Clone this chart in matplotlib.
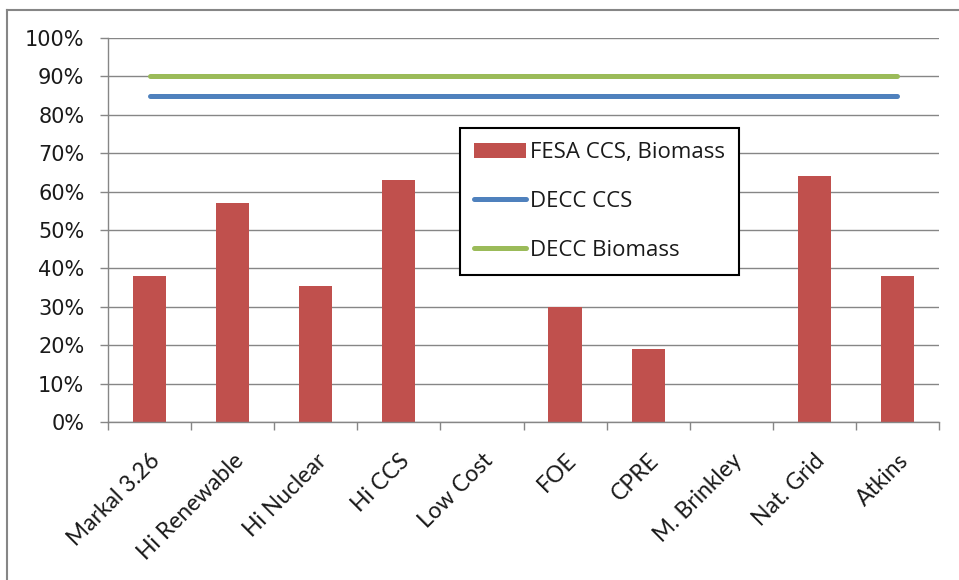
import matplotlib
matplotlib.use("Agg")
import matplotlib.pyplot as plt
from matplotlib.lines import Line2D
from matplotlib.ticker import FixedLocator, PercentFormatter
import numpy as np

categories = ["Markal 3.26", "Hi Renewable", "Hi Nuclear", "Hi CCS", "Low Cost",
              "FOE", "CPRE", "M. Brinkley", "Nat. Grid", "Atkins"]
fesa = [0.38, 0.57, 0.355, 0.63, 0.0, 0.30, 0.19, 0.0, 0.64, 0.38]
decc_ccs = [0.85] * 10
decc_biomass = [0.90] * 10
yticks = [0, 0.1, 0.2, 0.3, 0.4, 0.5, 0.6, 0.7, 0.8, 0.9, 1.0]

W, H = 959, 580
fig = plt.figure(figsize=(W / 100, H / 100), dpi=100)
ax = fig.add_axes([108 / W, 1 - 422 / H, (939 - 108) / W, (422 - 38) / H])

x = np.arange(len(categories))
grey = "#868686"

ax.set_ylim(0, 1.0)
ax.set_xlim(-0.5, len(categories) - 0.5)
ax.yaxis.set_major_locator(FixedLocator(yticks))
ax.yaxis.set_major_formatter(PercentFormatter(1.0, decimals=0))
ax.grid(axis="y", color=grey, linewidth=1.0, zorder=0)
ax.set_axisbelow(True)

bars = ax.bar(x, fesa, width=0.4, color="#C0504D", label="FESA CCS, Biomass", zorder=2)
l1, = ax.plot(x, decc_ccs, color="#4F81BD", linewidth=3.6, solid_capstyle="round",
              label="DECC CCS", zorder=3)
l2, = ax.plot(x, decc_biomass, color="#9BBB59", linewidth=3.6, solid_capstyle="round",
              label="DECC Biomass", zorder=3)

for s in ["top", "right"]:
    ax.spines[s].set_visible(False)
for s in ["left", "bottom"]:
    ax.spines[s].set_color(grey)
    ax.spines[s].set_linewidth(1.0)

ax.set_xticks(x)
ax.set_xticks(np.arange(-0.5, len(categories), 1.0), minor=True)
ax.set_xticklabels(categories, rotation=45, ha="right", rotation_mode="anchor",
                   fontsize=16.5, family="Lato", color="#1a1a1a")
ax.tick_params(axis="x", which="major", length=0, pad=20)
ax.tick_params(axis="x", which="minor", length=6, color=grey, width=1.0)
ax.tick_params(axis="y", length=6, color=grey, width=1.0, pad=11,
               labelsize=15, labelcolor="#1a1a1a")
for lab in ax.get_yticklabels():
    lab.set_family("DejaVu Sans")

leg = ax.legend([bars, l1, l2], ["FESA CCS, Biomass", "DECC CCS", "DECC Biomass"],
                loc="upper left", bbox_to_anchor=((460 - 108) / 831, (422 - 128) / 384),
                borderaxespad=0, fancybox=False, framealpha=1, edgecolor="black",
                prop={"family": "Open Sans", "size": 16}, handlelength=2.3,
                handleheight=0.7, labelspacing=1.25, borderpad=0.65, handletextpad=0.2)
leg.get_frame().set_linewidth(1.5)
for t in leg.get_texts():
    t.set_color("#1a1a1a")

# outer chart border
fig.add_artist(Line2D([7 / W, 7 / W], [0, 1 - 10 / H], transform=fig.transFigure,
                      color=grey, linewidth=1.5))
fig.add_artist(Line2D([7 / W, 1], [1 - 10 / H, 1 - 10 / H], transform=fig.transFigure,
                      color=grey, linewidth=1.5))

fig.savefig("out.png", dpi=100)
